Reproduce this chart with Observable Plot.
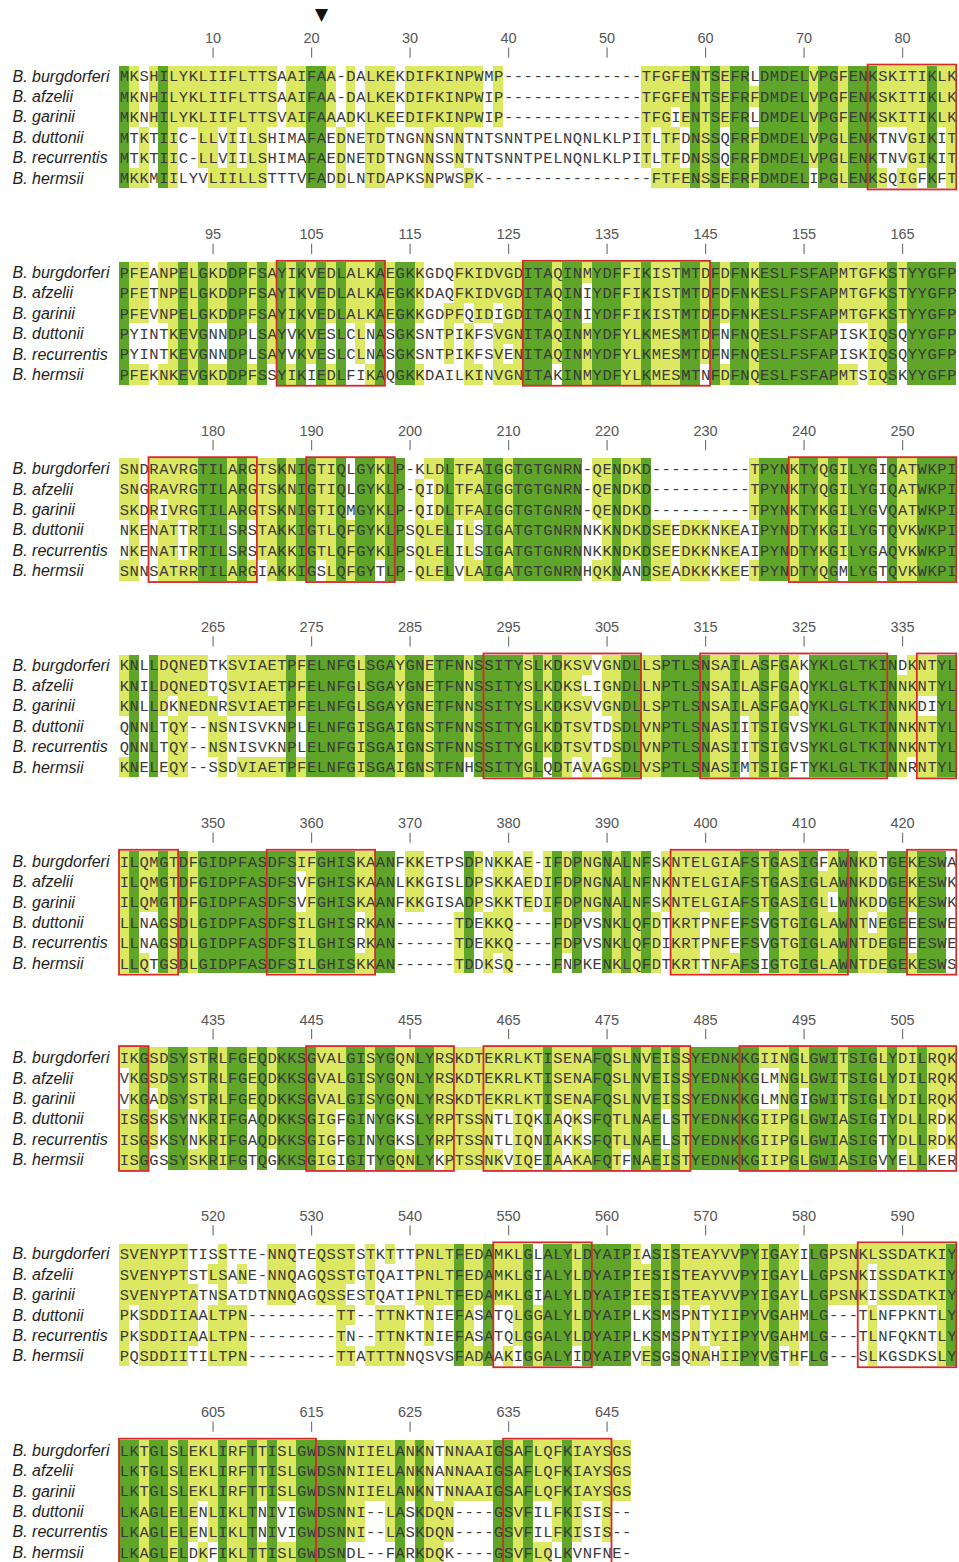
<!DOCTYPE html>
<html>
<head>
<meta charset="utf-8">
<script src="https://cdn.jsdelivr.net/npm/d3@7"></script>
<script src="https://cdn.jsdelivr.net/npm/@observablehq/plot@0.6"></script>
<style>
  html, body { margin: 0; padding: 0; background: #fff; }
  #chart svg { display: block; background: #fff; }
</style>
</head>
<body>
<div id="chart"></div>
<script>
// ---- data -------------------------------------------------------------
const species = ["B. burgdorferi", "B. afzelii", "B. garinii", "B. duttonii", "B. recurrentis", "B. hermsii"];

const burgdorferi = [
  "MKSHILYKLIIFLTTSAAIFAA-DALKEKDIFKINPWMP--------------TFGFENTSEFRLDMDELVPGFENKSKITIKLK",
  "PFEANPELGKDDPFSAYIKVEDLALKAEGKKGDQFKIDVGDITAQINMYDFFIKISTMTDFDFNKESLFSFAPMTGFKSTYYGFP",
  "SNDRAVRGTILARGTSKNIGTIQLGYKLP-KLDLTFAIGGTGTGNRN-QENDKD----------TPYNKTYQGILYGIQATWKPI",
  "KNLLDQNEDTKSVIAETPFELNFGLSGAYGNETFNNSSITYSLKDKSVVGNDLLSPTLSNSAILASFGAKYKLGLTKINDKNTYL",
  "ILQMGTDFGIDPFASDFSIFGHISKAANFKKETPSDPNKKAE-IFDPNGNALNFSKNTELGIAFSTGASIGFAWNKDTGEKESWA",
  "IKGSDSYSTRLFGEQDKKSGVALGISYGQNLYRSKDTEKRLKTISENAFQSLNVEISSYEDNKKGIINGLGWITSIGLYDILRQK",
  "SVENYPTTISSTTE-NNQTEQSSTSTKTTTPNLTFEDAMKLGLALYLDYAIPIASISTEAYVVPYIGAYILGPSNKLSSDATKIY",
  "LKTGLSLEKLIRFTTISLGWDSNNIIELANKNTNNAAIGSAFLQFKIAYSGS"
];
const afzelii = [
  "MKNHILYKLIIFLTTSAAIFAA-DALKEKDIFKINPWIP--------------TFGFENTSEFRFDMDELVPGFENKSKITIKLK",
  "PFETNPELGKDDPFSAYIKVEDLALKAEGKKDAQFKIDVGDITAQINIYDFFIKISTMTDFDFNKESLFSFAPMTGFKSTYYGFP",
  "SNGRAVRGTILARGTSKNIGTIQLGYKLP-QIDLTFAIGGTGTGNRN-QENDKD----------TPYNKTYQGILYGIQATWKPI",
  "KNILDQNEDTQSVIAETPFELNFGLSGAYGNETFNNSSITYSLKDKSLIGNDLLNPTLSNSAILASFGAQYKLGLTKINNKNTYL",
  "ILQMGTDFGIDPFASDFSVFGHISKAANLKKGISLDPSKKAEDIFDPNGNALNFNKNTELGIAFSTGASIGLAWNKDDGEKESWK",
  "VKGSDSYSTRLFGEQDKKSGVALGISYGQNLYRSKDTEKRLKTISENAFQSLNVEISSYEDNKKGLMNGLGWITSIGLYDILRQK",
  "SVENYPTSTLSANE-NNQAGQSSTGTQAITPNLTFEDAMKLGIALYLDYAIPIESISTEAYVVPYIGAYLLGPSNKISSDATKIY",
  "LKTGLSLEKLIRFTTISLGWDSNNIIELANKNANNAAIGSAFLQFKIAYSGS"
];
const garinii = [
  "MKNHILYKLIIFLTTSVAIFAAADKLKEEDIFKINPWIP--------------TFGIENTSEFRLDMDELVPGFENKSKITIKLK",
  "PFEVNPELGKDDPFSAYIKVEDLALKAEGKKGDPFQIDIGDITAQINIYDFFIKISTMTDFDFNKESLFSFAPMTGFKSTYYGFP",
  "SKDRIVRGTILARGTSKNIGTIQMGYKLP-QIDLTFAIGGTGTGNRN-QENDKD----------TPYNKTYKGILYGVQATWKPI",
  "KNLLDKNEDNRSVIAETPFELNFGLSGAYGNETFNNSSITYSLKDKSVVGNDLLSPTLSNSAILASFGAQYKLGLTKINNKDIYL",
  "ILQMGTDFGIDPFASDFSVFGHISKAANFKKGISADPSKKTEDIFDPNGNALNFSKNTELGIAFSTGASIGLLWNKDDGEKESWK",
  "VKGADSYSTRLFGEQDKKSGVALGISYGQNLYRSKDTEKRLKTISENAFQSLNVEISSYEDNKKGLMNGIGWITSIGLYDILRQK",
  "SVENYPTATNSATDTNNQAGQSSESTQATIPNLTFEDAMKLGIALYLDYAIPIESISTEAYVVPYIGAYLLGPSNKISSDATKIY",
  "LKTGLSLEKLIRFTTISLGWDSNNIIELANKNTNNAAIGSAFLQFKIAYSGS"
];
const duttonii = [
  "MTKTIIC-LLVIILSHIMAFAEDNETDTNGNNSNNTNTSNNTPELNQNLKLPITLTFDNSSQFRFDMDELVPGLENKTNVGIKIT",
  "PYINTKEVGNNDPLSAYVKVESLCLNASGKSNTPIKFSVGNITAQINMYDFYLKMESMTDFNFNQESLFSFAPISKIQSQYYGFP",
  "NKENATTRTILSRSTAKKIGTLQFGYKLPSQLELILSIGATGTGNRNNKKNDKDSEEDKKNKEAIPYNDTYKGILYGTQVKWKPI",
  "QNNLTQY--NSNISVKNPLELNFGISGAIGNSTFNNSSITYGLKDTSVTDSDLVNPTLSNASIITSIGVSYKLGLTKINNKNTYL",
  "LLNAGSDLGIDPFASDFSILGHISRKAN------TDEKKQ----FDPVSNKLQFDTKRTPNFEFSVGTGIGLAWNTNEGEEESWE",
  "ISGSKSYNKRIFGAQDKKSGIGFGINYGKSLYRPTSSNTLIQKIAQKSFQTLNAELSTYEDNKKGIIPGLGWIASIGIYDLLRDK",
  "PKSDDIIAALTPN---------TT--TTNKTNIEFASATQLGGALYLDYAIPLKSMSPNTYIIPYVGAHMLG---TLNFPKNTLY",
  "LKAGLELENLIKLTNIVIGWDSNNI--LASKDQN----GSVFILFKISIS--"
];
const recurrentis = [
  "MTKTIIC-LLVIILSHIMAFAEDNETDTNGNNSSNTNTSNNTPELNQNLKLPITLTFDNSSQFRFDMDELVPGLENKTNVGIKIT",
  "PYINTKEVGNNDPLSAYVKVESLCLNASGKSNTPIKFSVENITAQINMYDFYLKMESMTDFNFNQESLFSFAPISKIQSQYYGFP",
  "NKENATTRTILSRSTAKKIGTLQFGYKLPSQLELILSIGATGTGNRNNKKNDKDSEEDKKNKEAIPYNDTYKGILYGAQVKWKPI",
  "QNNLTQY--NSNISVKNPLELNFGISGAIGNSTFNNSSITYGLKDTSVTDSDLVNPTLSNASIITSIGVSYKLGLTKINNKNTYL",
  "LLNAGSDLGIDPFASDFSILGHISRKAN------TDEKKQ----FDPVSNKLQFDIKRTPNFEFSVGTGIGLAWNTDEGEEESWE",
  "ISGSKSYNKRIFGAQDKKSGIGFGINYGKSLYRPTSSNTLIQNIAKKSFQTLNAELSTYEDNKKGIIPGLGWIASIGTYDLLRDK",
  "PKSDDIIAALTPN---------TN--TTNKTNIEFASATQLGGALYLDYAIPLKSMSPNTYIIPYVGAHMLG---TLNFQKNTLY",
  "LKAGLELENLIKLTNIVIGWDSNNI--LASKDQN----GSVFILFKISIS--"
];
const hermsii = [
  "MKKMIILYVLIILLSTTTVFADDLNTDAPKSNPWSPK-----------------FTFENSSEFRFDMDELIPGLENKSQIGFKFT",
  "PFEKNKEVGKDDPFSSYIKIEDLFIKAQGKKDAILKINVGNITAKINMYDFYLKMESMTNFDFNQESLFSFAPMTSIQSKYYGFP",
  "SNNSATRRTILARGIAKKIGSLQFGYTLP-QLELVLAIGATGTGNRNHQKNANDSEADKKKKEETPYNDTYQGMLYGTQVKWKPI",
  "KNELEQY--SSDVIAETPFELNFGISGAIGNSTFNHSSITYGLQDTAVAGSDLVSPTLSNASIMTSIGFTYKLGLTKINNRNTYL",
  "LLQTGSDLGIDPFASDFSILGHISKKAN------TDDKSQ----FNPKENKLQFDTKRTTNFAFSIGTGIGLAWNTDEGEKESWS",
  "ISGGSSYSKRIFGTQGKKSGIGIGITYGQNLYKPTSSNKVIQEIAAKAFQTFNAEISTYEDNKKGIIPGLGWIASIGVYELLKER",
  "PQSDDIITILTPN---------TTATTTNNQSVSFADAAKIGGALYIDYAIPVESGSQNAHIIPYVGTHFLG---SLKGSDKSLY",
  "LKAGLELDKFIKLTTISLGWDSNDL--FARKDQK----GSVFLQLKVNFNE-"
];

// alignment positions shown as ruler labels
const tickLabels = [
  10, 20, 30, 40, 50, 60, 70, 80,
  95, 105, 115, 125, 135, 145, 155, 165,
  180, 190, 200, 210, 220, 230, 240, 250,
  265, 275, 285, 295, 305, 315, 325, 335,
  350, 360, 370, 380, 390, 400, 410, 420,
  435, 445, 455, 465, 475, 485, 495, 505,
  520, 530, 540, 550, 560, 570, 580, 590,
  605, 615, 625, 635, 645
];

// boxed motifs: [first alignment position, last alignment position]
const boxStart = [77, 102, 127, 174, 190, 239, 293, 315, 337, 341, 356, 397, 421, 426, 445, 463, 489, 549, 586, 596, 635];
const boxEnd   = [85, 112, 145, 184, 198, 255, 308, 333, 340, 346, 366, 414, 425, 428, 459, 483, 510, 558, 595, 615, 645];

const arrowPosition = [21];

// ---- layout -----------------------------------------------------------
const W = 959, H = 1562;
const PER_BLOCK = 85;
const X0 = 119, CW = 9.85;          // left edge of first column, column width (px)
const TOP = 76, ROW = 20.4, BLOCK = 196.3; // first row centre, row pitch, block pitch (px)
const blockRows = BLOCK / ROW;
const yv = (b, r) => b * blockRows + r;

const seqs = [burgdorferi, afzelii, garinii, duttonii, recurrentis, hermsii].map(a => a.join(""));
const nPos = seqs[0].length;

// conservation classes per cell
const cells = [];
for (let i = 0; i < nPos; i++) {
  const col = seqs.map(s => s[i]);
  const counts = {};
  col.forEach(c => { if (c && c !== "-") counts[c] = (counts[c] || 0) + 1; });
  const b = Math.floor(i / PER_BLOCK), c = i % PER_BLOCK + 1;
  col.forEach((ch, r) => {
    if (!ch) return;
    let cls = null;
    if (ch !== "-") {
      if (counts[ch] === seqs.length) cls = "identical";
      else if (counts[ch] >= 3) cls = "shared";
    }
    cells.push({ch, col: c, yv: yv(b, r), cls});
  });
}
const shaded = cells.filter(d => d.cls);

const nBlocks = Math.ceil(nPos / PER_BLOCK);
const labels = [];
for (let b = 0; b < nBlocks; b++) species.forEach((s, r) => labels.push({s, yv: yv(b, r)}));

const ticks = tickLabels.map(p => {
  const b = Math.floor((p - 1) / PER_BLOCK);
  return {p, col: p - b * PER_BLOCK, yv: yv(b, 0)};
});

const boxes = boxStart.map((s, k) => {
  const b = Math.floor((s - 1) / PER_BLOCK);
  return {c1: s - b * PER_BLOCK, c2: boxEnd[k] - b * PER_BLOCK, y1: yv(b, 0), y2: yv(b, 5)};
});

const arrows = arrowPosition.map(p => ({col: p, yv: yv(0, 0)}));

const labelX = 0.5 - (X0 - 12) / CW;

const chart = Plot.plot({
  width: W,
  height: H,
  margin: 0,
  x: {domain: [0.5 - X0 / CW, 0.5 + (W - X0) / CW], range: [0, W], axis: null},
  y: {domain: [-TOP / ROW, (H - TOP) / ROW], range: [0, H], axis: null},
  color: {domain: ["identical", "shared"], range: ["#5ea52a", "#dde862"]},
  style: {background: "#fff"},
  marks: [
    Plot.rect(shaded, {
      x1: d => d.col - 0.5, x2: d => d.col + 0.5,
      y1: d => d.yv - 0.5, y2: d => d.yv + 0.5,
      fill: "cls", shapeRendering: "crispEdges"
    }),
    Plot.text(cells, {
      x: "col", y: "yv", text: "ch",
      fontFamily: "Liberation Mono, DejaVu Sans Mono, monospace",
      fontSize: 15.5, fill: "#3a3a3a"
    }),
    Plot.rect(boxes, {
      x1: d => d.c1 - 0.5, x2: d => d.c2 + 0.5,
      y1: d => d.y1 - 0.56, y2: d => d.y2 + 0.56,
      fill: "none", stroke: "#d42a2a", strokeWidth: 1.8
    }),
    Plot.ruleX(ticks, {
      x: "col", y1: d => d.yv - 1.4, y2: d => d.yv - 0.9,
      stroke: "#777", strokeWidth: 1.2
    }),
    Plot.text(ticks, {
      x: "col", y: d => d.yv - 1.86, text: d => String(d.p),
      fontFamily: "Liberation Sans, Arial, sans-serif", fontSize: 14.5, fill: "#555"
    }),
    Plot.text(labels, {
      x: labelX, y: "yv", text: "s", textAnchor: "start",
      fontFamily: "Liberation Sans, Arial, sans-serif", fontStyle: "italic",
      fontSize: 16, fill: "#1e1e1e"
    }),
    Plot.text(arrows, {
      x: "col", y: d => d.yv - 3.05, text: () => "▼",
      fontFamily: "DejaVu Sans, sans-serif", fontSize: 17, fill: "#111"
    })
  ]
});
document.getElementById("chart").appendChild(chart);
</script>
</body>
</html>
